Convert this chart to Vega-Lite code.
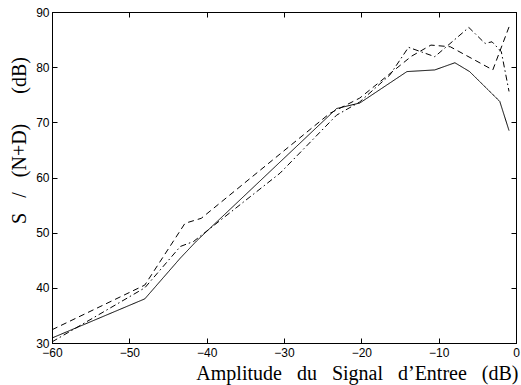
{
  "$schema": "https://vega.github.io/schema/vega-lite/v6.json",
  "autosize": "none",
  "padding": {"left": 52, "top": 12, "right": 5, "bottom": 42},
  "width": 464,
  "height": 331,
  "background": "white",
  "config": {
    "view": {"stroke": "black", "strokeWidth": 1},
    "axis": {
      "grid": false,
      "domainColor": "black",
      "tickColor": "black",
      "labelColor": "black",
      "labelFont": "Liberation Sans",
      "labelFontSize": 12,
      "titleFont": "Liberation Serif",
      "titleFontSize": 20,
      "titleFontWeight": "normal",
      "titleColor": "black",
      "tickSize": -5,
      "labelFlush": false,
      "labelOverlap": false
    }
  },
  "data": {
    "values": [
      {"s": "a", "x": -60, "y": 30.9},
      {"s": "a", "x": -48, "y": 38.0},
      {"s": "a", "x": -43.4, "y": 45.4},
      {"s": "a", "x": -41.3, "y": 48.5},
      {"s": "a", "x": -23.2, "y": 72.5},
      {"s": "a", "x": -20.2, "y": 73.5},
      {"s": "a", "x": -14.1, "y": 79.2},
      {"s": "a", "x": -10.5, "y": 79.5},
      {"s": "a", "x": -7.9, "y": 80.8},
      {"s": "a", "x": -6.0, "y": 79.2},
      {"s": "a", "x": -2.1, "y": 73.8},
      {"s": "a", "x": -0.9, "y": 68.5},
      {"s": "b", "x": -60, "y": 32.4},
      {"s": "b", "x": -48, "y": 40.5},
      {"s": "b", "x": -42.8, "y": 51.7},
      {"s": "b", "x": -40.7, "y": 52.6},
      {"s": "b", "x": -24.1, "y": 71.6},
      {"s": "b", "x": -20.2, "y": 74.4},
      {"s": "b", "x": -13.5, "y": 82.0},
      {"s": "b", "x": -11.0, "y": 84.0},
      {"s": "b", "x": -8.5, "y": 83.7},
      {"s": "b", "x": -3.0, "y": 79.5},
      {"s": "b", "x": -0.9, "y": 87.3},
      {"s": "c", "x": -60, "y": 30.2},
      {"s": "c", "x": -48, "y": 40.0},
      {"s": "c", "x": -43.4, "y": 47.5},
      {"s": "c", "x": -41.7, "y": 48.4},
      {"s": "c", "x": -30.5, "y": 60.8},
      {"s": "c", "x": -23.2, "y": 71.3},
      {"s": "c", "x": -20.2, "y": 73.7},
      {"s": "c", "x": -16.3, "y": 78.6},
      {"s": "c", "x": -13.9, "y": 83.6},
      {"s": "c", "x": -10.5, "y": 81.9},
      {"s": "c", "x": -6.1, "y": 87.2},
      {"s": "c", "x": -4.0, "y": 84.3},
      {"s": "c", "x": -3.1, "y": 84.6},
      {"s": "c", "x": -1.9, "y": 82.8},
      {"s": "c", "x": -0.9, "y": 75.6}
    ]
  },
  "layer": [
    {
      "mark": {"type": "line", "color": "black", "strokeWidth": 1},
      "encoding": {
        "x": {
          "field": "x", "type": "quantitative",
          "scale": {"domain": [-60, 0], "nice": false, "zero": false},
          "axis": {
            "orient": "bottom",
            "values": [-60, -50, -40, -30, -20, -10, 0],
            "labelPadding": 9,
            "title": "Amplitude\u2002 du\u2002 Signal\u2002 d\u2019Entree\u2002 (dB)",
            "titleAnchor": "end",
            "titleAlign": "right",
            "titleBaseline": "alphabetic",
            "titleX": 466,
            "titleY": 36
          }
        },
        "y": {
          "field": "y", "type": "quantitative",
          "scale": {"domain": [30, 90], "nice": false, "zero": false},
          "axis": {
            "orient": "left",
            "values": [30, 40, 50, 60, 70, 80, 90],
            "labelPadding": 8,
            "title": "S\u2002 /\u2002 (N+D)\u2002 \u2002 (dB)",
            "titleBaseline": "alphabetic",
            "titleAngle": -90,
            "titleX": -27,
            "titleY": 128
          }
        },
        "strokeDash": {
          "field": "s", "type": "nominal",
          "scale": {"domain": ["a", "b", "c"], "range": [[1, 0], [6, 4], [6, 3, 1.5, 3]]},
          "legend": null
        }
      }
    },
    {
      "mark": {"type": "line", "opacity": 0},
      "encoding": {
        "x": {
          "field": "x", "type": "quantitative",
          "scale": {"domain": [-60, 0], "nice": false, "zero": false},
          "axis": {"orient": "top", "values": [-60, -50, -40, -30, -20, -10, 0], "labels": false, "title": null}
        },
        "y": {
          "field": "y", "type": "quantitative",
          "scale": {"domain": [30, 90], "nice": false, "zero": false},
          "axis": {"orient": "right", "values": [30, 40, 50, 60, 70, 80, 90], "labels": false, "title": null}
        },
        "detail": {"field": "s"}
      }
    }
  ],
  "resolve": {"axis": {"x": "independent", "y": "independent"}}
}
